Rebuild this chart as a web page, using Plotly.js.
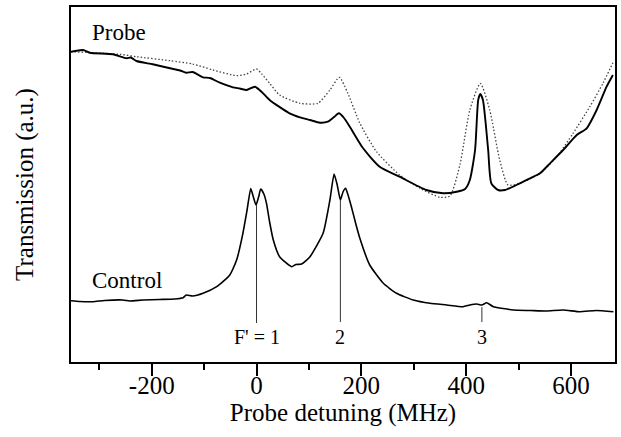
<!DOCTYPE html>
<html>
<head>
<meta charset="utf-8">
<script src="https://cdn.plot.ly/plotly-3.0.1.min.js"></script>
<style>html,body{margin:0;padding:0;background:#fff;}#chart{width:621px;height:437px;}</style>
</head>
<body>
<div id="chart"></div>
<script>
// Probe transmission with control field (solid)
const probeX = [-354,-331,-318,-274,-248,-240,-229,-198,-165,-146,-134,-122,-102,-89,-70,-45,-32,-19,-3,10,25,63,83,102,121,136,148,157,167,178,203,235,273,324,356,382,398,407,417,423,427,432,442,448,461,474,496,522,541,560,585,611,630,649,668,680];
const probeY = [310.3,312,309.3,307.7,303.7,304.5,301,297.7,293.7,291.5,289.3,290,284.7,284,279.3,274.7,273.5,272,275.3,270,262,248.7,244.7,242,239.3,240.3,245,248.7,244,235.3,214,195.3,185.3,172,168.7,170.3,173,182,212,262,268,262,212,178.7,172,172,177,183.7,188.7,198.7,212,227,233.7,252,275.3,287];
// Probe transmission without control field (dotted)
const probeNoCtrlX = [-354,-261,-229,-165,-122,-83,-38,-19,0,10,25,44,83,117,140,158,174,197,229,273,312,350,369,388,407,427,445,464,480,502,541,573,604,636,661,680];
const probeNoCtrlY = [310.3,307.7,305.3,301.3,298,292,286.3,288,293,288,278.7,267,258.7,258.7,272,284.7,269,239,210.3,187,173.7,164.7,166,197,252,278.7,252,202,177,178.7,188.7,205.3,228.7,255.3,278.7,299.3];
// Control field transmission
const controlX = [-354,-337,-312,-290,-255,-242,-216,-185,-156,-140,-134,-122,-102,-76,-51,-38,-26,-18,-11,-6,-1,4,8,14,19,25,32,44,67,75,86,102,127,140,148,154,160,165,170,174,181,190,197,216,242,267,299,331,363,394,407,420,430,439,452,490,522,553,585,617,648,681];
const controlY = [61.3,60.5,60.3,61.5,62,61,62,62.5,63,64.3,67,66,68.7,75.3,87,102,128.7,152,173.5,165,157,165,173,168,158.7,140,122,105.3,95.3,97.5,98,105.3,128.7,162,188,177,162,170,173.7,168,155.3,137,124,97,78.7,68.7,62,58.7,57,55.3,57,58,57,59.3,55.3,52,51.5,51,52,50.3,51.5,50.3];
// Hyperfine markers
const markerX = [0, 160, 430];
const markerTop = [157, 162, 55];
const markerBottom = [39, 40, 40];
const markerLabels = ["F' = 1", "2", "3"];
// Axis tick labels
const tickVals = [-200, 0, 200, 400, 600];
const tickLabels = ["-200", "0", "200", "400", "600"];

const font = "Liberation Serif";
const traces = [
  {x: probeNoCtrlX, y: probeNoCtrlY, mode: 'lines', line: {color: '#444', width: 1.3, dash: '1.5px,2px', shape: 'spline', smoothing: 0.6}, showlegend: false, hoverinfo: 'skip'},
  {x: probeX, y: probeY, mode: 'lines', line: {color: '#000', width: 1.9, shape: 'spline', smoothing: 0.6}, showlegend: false, hoverinfo: 'skip'},
  {x: controlX, y: controlY, mode: 'lines', line: {color: '#000', width: 1.6, shape: 'spline', smoothing: 0.5}, showlegend: false, hoverinfo: 'skip'}
];
markerX.forEach((mx, i) => {
  traces.push({x: [mx, mx], y: [markerTop[i], markerBottom[i]], mode: 'lines', line: {color: '#333', width: 1}, showlegend: false, hoverinfo: 'skip'});
});
const annotations = markerX.map((mx, i) => ({
  x: mx, y: 25, xref: 'x', yref: 'y', text: markerLabels[i], showarrow: false,
  font: {family: font, size: 20, color: '#000'}, xanchor: 'center', yanchor: 'middle'
}));
annotations.push({x: -318, y: 330, xref: 'x', yref: 'y', text: 'Probe', showarrow: false, xanchor: 'left', yanchor: 'middle', font: {family: font, size: 23, color: '#000'}});
annotations.push({x: -318, y: 82, xref: 'x', yref: 'y', text: 'Control', showarrow: false, xanchor: 'left', yanchor: 'middle', font: {family: font, size: 23, color: '#000'}});

const layout = {
  width: 621, height: 437,
  margin: {l: 71, r: 6, t: 7, b: 75},
  paper_bgcolor: '#fff', plot_bgcolor: '#fff',
  showlegend: false,
  font: {family: font, size: 25, color: '#000'},
  xaxis: {
    range: [-354, 684], showgrid: false, zeroline: false,
    showline: true, mirror: true, linecolor: '#000', linewidth: 2,
    ticks: 'outside', ticklen: 12, tickwidth: 2, tickcolor: '#000',
    tickmode: 'array', tickvals: tickVals, ticktext: tickLabels,
    ticklabelstandoff: -12,
    minor: {ticks: 'outside', ticklen: 6, tickwidth: 2, tickcolor: '#000', dtick: 100, tick0: 0, showgrid: false},
    tickfont: {family: font, size: 25, color: '#000'},
    title: {text: 'Probe detuning (MHz)', font: {family: font, size: 25, color: '#000'}, standoff: 2}
  },
  yaxis: {
    range: [0, 355], showgrid: false, zeroline: false,
    showline: true, mirror: true, linecolor: '#000', linewidth: 2,
    ticks: '', showticklabels: false,
    title: {text: 'Transmission (a.u.)', font: {family: font, size: 25, color: '#000'}, standoff: 28}
  },
  annotations: annotations
};
Plotly.newPlot('chart', traces, layout, {displayModeBar: false, staticPlot: true});
</script>
</body>
</html>
